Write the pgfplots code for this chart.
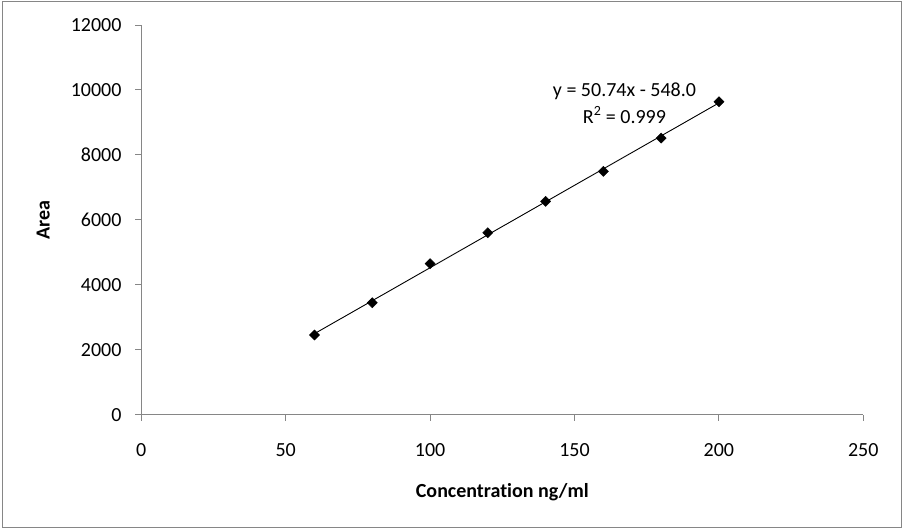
\documentclass[border=0pt]{standalone}
\usepackage{fontspec}
\setmainfont[RawFeature=-liga]{Carlito}
\usepackage{pgfplots}
\pgfplotsset{compat=1.18}
\definecolor{axgray}{HTML}{868686}
\begin{document}
\begin{tikzpicture}[font=\fontsize{20}{24}\selectfont]
\begin{axis}[
  at={(0pt,0pt)}, anchor=south west,
  scale only axis, width=722pt, height=389.7pt,
  xmin=0, xmax=250, ymin=0, ymax=12000,
  axis x line=bottom, axis y line=left,
  axis line style={-, draw=axgray, line width=0.9pt},
  xtick={0,50,...,250}, ytick={0,2000,...,12000},
  minor tick num=0,
  tick align=outside, major tick length=6pt,
  tick style={draw=axgray, line width=0.9pt},
  every tick label/.append style={font=\fontsize{20}{24}\selectfont, text=black},
  xticklabel style={anchor=north, inner sep=0pt, yshift=-22.3pt},
  yticklabel style={anchor=east, inner sep=0pt, xshift=-13.6pt},
  /pgf/number format/assume math mode=true,
  /pgf/number format/1000 sep={},
  scaled ticks=false,
  every axis x label/.style={at={([yshift=-77pt]axis description cs:0.5,0)}, anchor=center, font=\fontsize{20}{24}\selectfont\bfseries},
  every axis y label/.style={at={([xshift=-98pt]axis description cs:0,0.5)}, rotate=90, anchor=center, font=\fontsize{20}{24}\selectfont\bfseries},
  xlabel={Concentration ng/ml},
  ylabel={Area},
  clip=false,
]
\addplot[black, line width=0.9pt] coordinates {(60,2496.4) (200,9600)};
\addplot[only marks, mark=square*, mark size=3.6pt, mark options={rotate=45, fill=black, draw=black}] coordinates {
(60,2454) (80,3448) (100,4649) (120,5603) (140,6570) (160,7494) (180,8519) (200,9637)};
\node[anchor=center, inner sep=0pt] at (axis cs:167.3,9945) {y = 50.74x - 548.0};
\node[anchor=center, inner sep=0pt] at (axis cs:167.3,9227) {R\textsuperscript{2} = 0.999};
\end{axis}
\draw[axgray, line width=1pt] (-138.3pt,-112.3pt) rectangle (759.7pt,412.7pt);
\pgfresetboundingbox
\path (-141.3pt,-115.3pt) rectangle (763.7pt,414.7pt);
\end{tikzpicture}
\end{document}
